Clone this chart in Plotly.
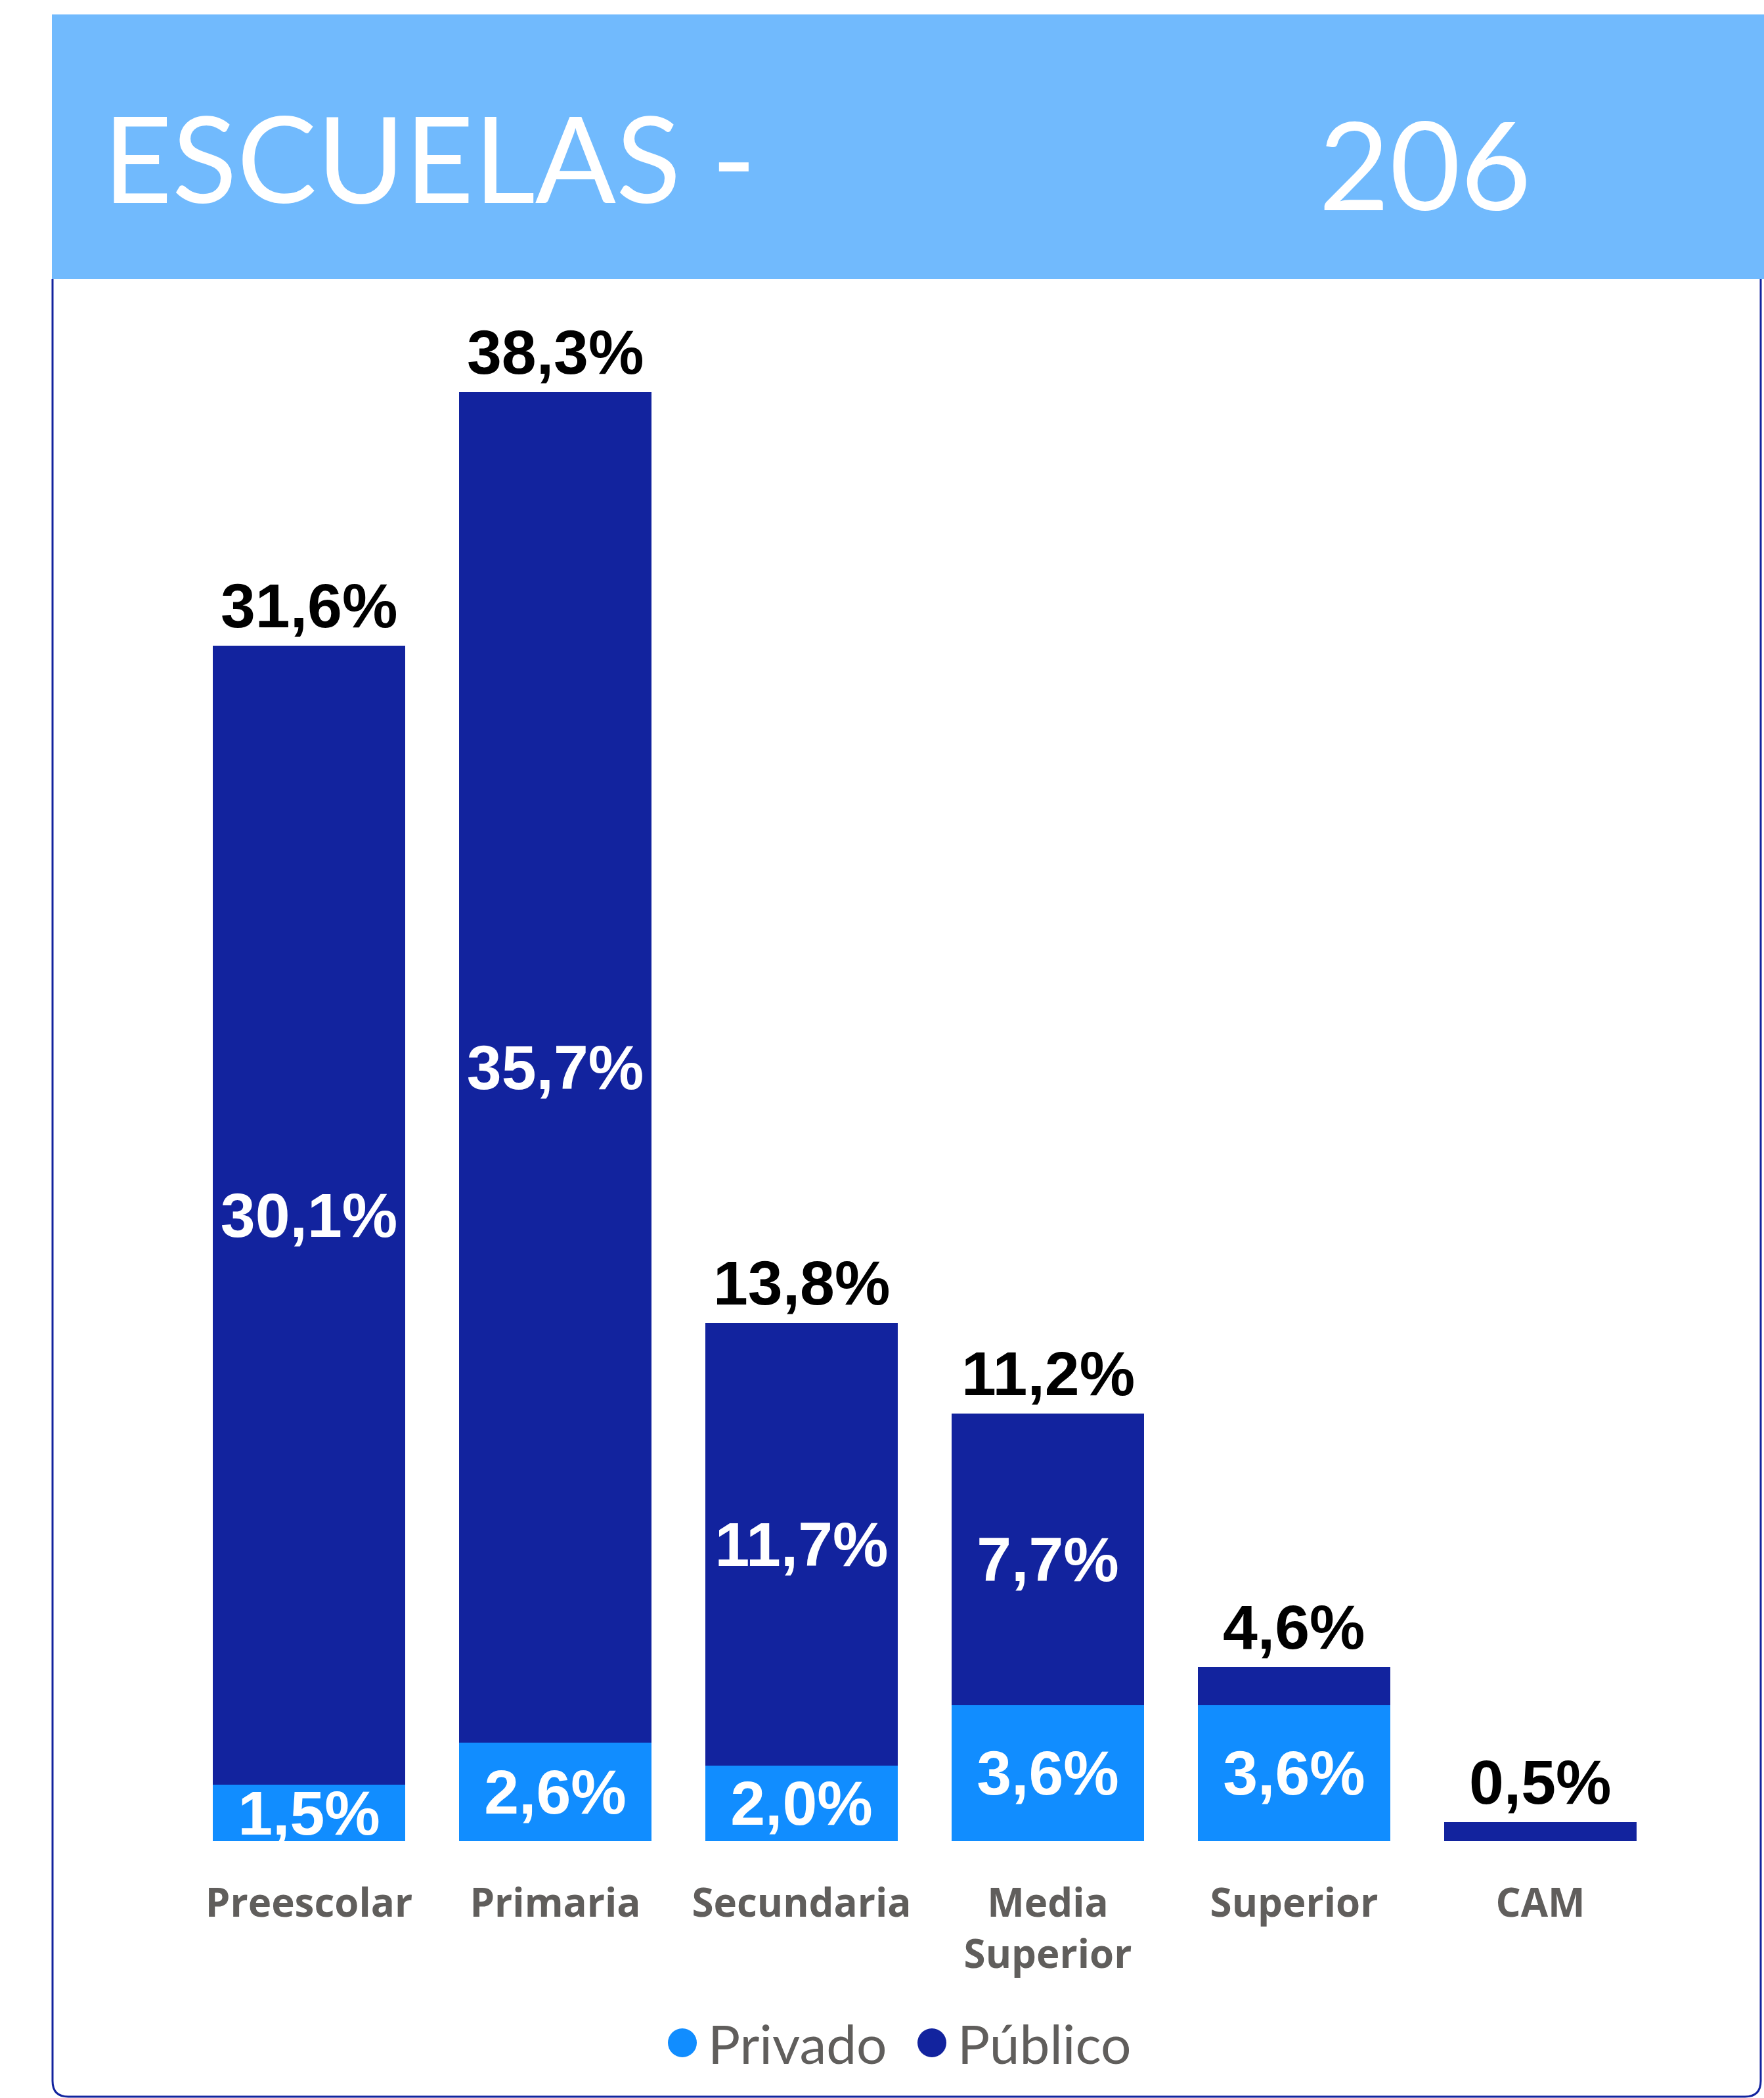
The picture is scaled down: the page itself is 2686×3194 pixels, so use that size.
import plotly.graph_objects as go

# --- data ------------------------------------------------------------------
categorias = ["Preescolar", "Primaria", "Secundaria", "Media<br>Superior", "Superior", "CAM"]
privado = [1.5, 2.6, 2.0, 3.6, 3.6, 0.0]
publico = [30.1, 35.7, 11.7, 7.7, 1.0, 0.5]
totales = [31.6, 38.3, 13.8, 11.2, 4.6, 0.5]
titulo = "ESCUELAS -"
total_escuelas = "206"

# --- look ----------------------------------------------------------------
W, H = 2686, 3194
M_L, M_R, M_T, M_B = 283, 153, 499, 391
PLOT_W = W - M_L - M_R
PLOT_H = H - M_T - M_B

C_PRIV = "#118DFF"
C_PUB = "#12239E"
C_HEAD = "#71BAFD"
C_GRAY = "#605E5C"
LABEL_FONT = "Liberation Sans, Arial, sans-serif"
UI_FONT = "Lato, Segoe UI, sans-serif"
UI_BOLD = "Open Sans, Segoe UI, sans-serif"


def px_x(x):
    """Pixel x -> paper fraction (paper is the plot area)."""
    return (x - M_L) / PLOT_W


def px_y(y):
    return (H - M_B - y) / PLOT_H


def pct(v):
    return f"{v:.1f}".replace(".", ",") + "%"


def inside_text(vals):
    # small segments carry no label in the original
    return [pct(v) if v >= 1.5 else "" for v in vals]


bar_text = dict(family=LABEL_FONT, size=95, color="white", weight=700)

fig = go.Figure()
fig.add_trace(go.Bar(
    x=categorias, y=privado, name="Privado",
    marker=dict(color=C_PRIV, line=dict(width=0)),
    text=inside_text(privado), textposition="inside", textangle=0,
    insidetextanchor="middle", constraintext="none", textfont=bar_text,
    showlegend=False,
))
fig.add_trace(go.Bar(
    x=categorias, y=publico, name="Público",
    marker=dict(color=C_PUB, line=dict(width=0)),
    text=inside_text(publico), textposition="inside", textangle=0,
    insidetextanchor="middle", constraintext="none", textfont=bar_text,
    showlegend=False,
))

# totals above each stack
for cat, a, b, t in zip(categorias, privado, publico, totales):
    fig.add_annotation(
        x=cat, y=a + b, xref="x", yref="y", text=pct(t), showarrow=False,
        yanchor="bottom", yshift=6,
        font=dict(family=LABEL_FONT, size=95, color="black", weight=700),
    )

shapes = []
# header band
shapes.append(dict(type="rect", xref="paper", yref="paper",
                   x0=px_x(79), x1=px_x(W), y0=px_y(425), y1=px_y(22),
                   fillcolor=C_HEAD, line=dict(width=0), layer="below"))
# card outline below the header, rounded bottom corners
r = 24
xl, xr, yt, yb = 80, 2681, 425, 3192
path = (f"M {px_x(xl)},{px_y(yt)} L {px_x(xl)},{px_y(yb - r)} "
        f"Q {px_x(xl)},{px_y(yb)} {px_x(xl + r)},{px_y(yb)} "
        f"L {px_x(xr - r)},{px_y(yb)} Q {px_x(xr)},{px_y(yb)} {px_x(xr)},{px_y(yb - r)} "
        f"L {px_x(xr)},{px_y(yt)}")
shapes.append(dict(type="path", xref="paper", yref="paper", path=path,
                   line=dict(color=C_PUB, width=3), layer="below"))

# hand-made legend (round markers, large)
legend_items = [("Privado", C_PRIV, 1039), ("Público", C_PUB, 1419)]
ly = 3110
for name, color, cx in legend_items:
    shapes.append(dict(type="circle", xref="paper", yref="paper",
                       x0=px_x(cx - 22), x1=px_x(cx + 22),
                       y0=px_y(ly + 22), y1=px_y(ly - 22),
                       fillcolor=color, line=dict(width=0)))
    fig.add_annotation(
        x=px_x(cx + 37), y=px_y(ly), xref="paper", yref="paper", text=name,
        showarrow=False, xanchor="left", yanchor="middle",
        font=dict(family=UI_FONT, size=82, color=C_GRAY),
    )

# header texts
fig.add_annotation(
    x=px_x(155), y=px_y(238), xref="paper", yref="paper", text=titulo,
    showarrow=False, xanchor="left", yanchor="middle",
    font=dict(family=UI_FONT, size=182, color="white"),
)
fig.add_annotation(
    x=px_x(2170), y=px_y(248), xref="paper", yref="paper", text=total_escuelas,
    showarrow=False, xanchor="center", yanchor="middle",
    font=dict(family=UI_FONT, size=186, color="white"),
)

fig.update_layout(
    width=W, height=H,
    margin=dict(l=M_L, r=M_R, t=M_T, b=M_B, autoexpand=False),
    paper_bgcolor="white", plot_bgcolor="white",
    barmode="stack", bargap=0.22,
    showlegend=False,
    shapes=shapes,
)
fig.update_xaxes(
    showline=False, showgrid=False, zeroline=False, ticks="",
    tickfont=dict(family=UI_BOLD, size=60, color=C_GRAY, weight=700),
    ticklabelstandoff=54,
)
fig.update_yaxes(visible=False, range=[0, 40])

fig.write_html("out.html", config={"displayModeBar": False},
               post_script="document.body.style.margin='0';")
